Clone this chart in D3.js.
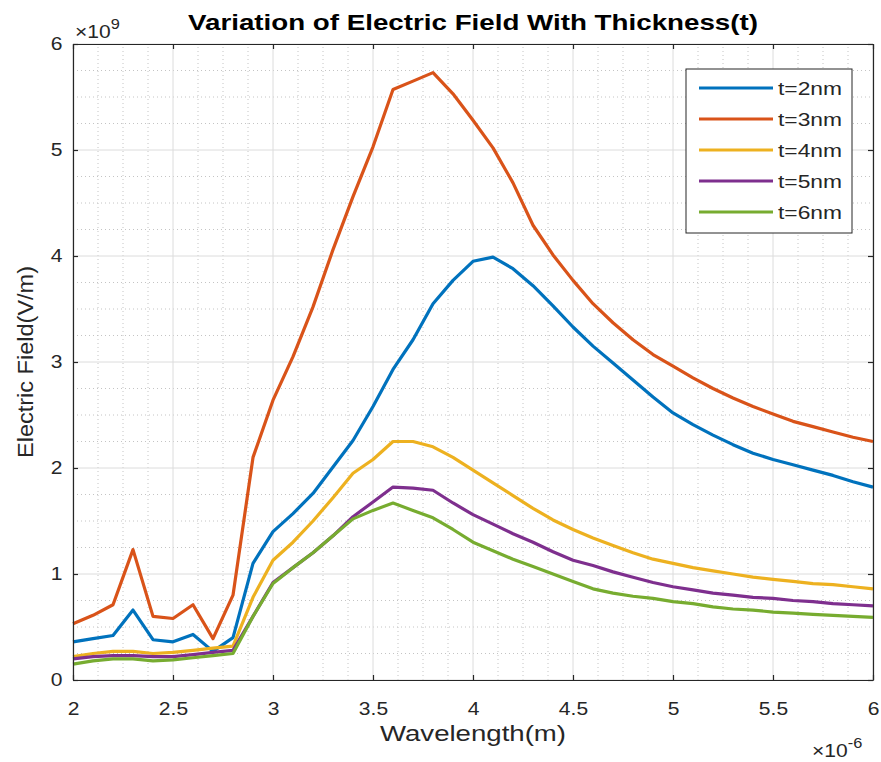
<!DOCTYPE html>
<html>
<head>
<meta charset="utf-8">
<script src="https://cdn.jsdelivr.net/npm/d3@7"></script>
<style>
  html, body { margin: 0; padding: 0; background: #fff; }
  text { font-family: "Liberation Sans", Arial, Helvetica, sans-serif; }
</style>
</head>
<body>
<svg id="chart" width="881" height="762"></svg>
<script>
// Wavelength samples (in micrometres; the axis shows them as ×10^-6 m)
const wavelength = [2.0, 2.1, 2.2, 2.3, 2.4, 2.5, 2.6, 2.7, 2.8, 2.9,
  3.0, 3.1, 3.2, 3.3, 3.4, 3.5, 3.6, 3.7, 3.8, 3.9,
  4.0, 4.1, 4.2, 4.3, 4.4, 4.5, 4.6, 4.7, 4.8, 4.9,
  5.0, 5.1, 5.2, 5.3, 5.4, 5.5, 5.6, 5.7, 5.8, 5.9, 6.0];

// Electric field (×10^9 V/m) for each layer thickness
const field_t2 = [0.36, 0.39, 0.42, 0.66, 0.38, 0.36, 0.43, 0.27, 0.40, 1.10,
  1.40, 1.57, 1.76, 2.01, 2.26, 2.58, 2.93, 3.21, 3.55, 3.77,
  3.95, 3.99, 3.88, 3.72, 3.53, 3.33, 3.15, 2.99, 2.83, 2.67,
  2.52, 2.41, 2.31, 2.22, 2.14, 2.08, 2.03, 1.98, 1.93, 1.87, 1.82];
const field_t3 = [0.53, 0.61, 0.71, 1.23, 0.60, 0.58, 0.71, 0.39, 0.80, 2.10,
  2.64, 3.05, 3.52, 4.06, 4.56, 5.03, 5.57, 5.65, 5.73, 5.53,
  5.28, 5.02, 4.69, 4.29, 4.01, 3.77, 3.55, 3.37, 3.21, 3.07,
  2.96, 2.85, 2.75, 2.66, 2.58, 2.51, 2.44, 2.39, 2.34, 2.29, 2.25];
const field_t4 = [0.22, 0.25, 0.27, 0.27, 0.25, 0.26, 0.28, 0.30, 0.32, 0.78,
  1.13, 1.30, 1.50, 1.72, 1.95, 2.08, 2.25, 2.25, 2.20, 2.10,
  1.98, 1.86, 1.74, 1.62, 1.51, 1.42, 1.34, 1.27, 1.20, 1.14,
  1.10, 1.06, 1.03, 1.00, 0.97, 0.95, 0.93, 0.91, 0.90, 0.88, 0.86];
const field_t5 = [0.20, 0.22, 0.23, 0.23, 0.22, 0.22, 0.24, 0.26, 0.28, 0.60,
  0.92, 1.06, 1.20, 1.36, 1.54, 1.68, 1.82, 1.81, 1.79, 1.67,
  1.56, 1.47, 1.38, 1.30, 1.21, 1.13, 1.08, 1.02, 0.97, 0.92,
  0.88, 0.85, 0.82, 0.80, 0.78, 0.77, 0.75, 0.74, 0.72, 0.71, 0.70];
const field_t6 = [0.15, 0.18, 0.20, 0.20, 0.18, 0.19, 0.21, 0.23, 0.25, 0.60,
  0.91, 1.06, 1.20, 1.36, 1.52, 1.60, 1.67, 1.60, 1.53, 1.42,
  1.30, 1.22, 1.14, 1.07, 1.00, 0.93, 0.86, 0.82, 0.79, 0.77,
  0.74, 0.72, 0.69, 0.67, 0.66, 0.64, 0.63, 0.62, 0.61, 0.60, 0.59];

const seriesNames = ["t=2nm", "t=3nm", "t=4nm", "t=5nm", "t=6nm"];
const seriesValues = [field_t2, field_t3, field_t4, field_t5, field_t6];
const seriesColors = ["#0072BD", "#D95319", "#EDB120", "#7E2F8E", "#77AC30"];

const xTicks = [2, 2.5, 3, 3.5, 4, 4.5, 5, 5.5, 6];
const yTicks = [0, 1, 2, 3, 4, 5, 6];

const svg = d3.select("#chart");
const margin = { left: 73, right: 8, top: 44, bottom: 82 };
const W = 881, H = 762;
const plotW = W - margin.left - margin.right;
const plotH = H - margin.top - margin.bottom;

const x = d3.scaleLinear().domain([2, 6]).range([margin.left, margin.left + plotW]);
const y = d3.scaleLinear().domain([0, 6]).range([margin.top + plotH, margin.top]);

const axisColor = "#262626";
const wide = "scale(1.17,1)";   // the figure's lettering is slightly wide

// Minor grid (dotted)
const xMinor = d3.range(2, 6.0001, 0.125).filter(v => Math.abs(v * 2 - Math.round(v * 2)) > 1e-6);
const yMinor = d3.range(0, 6.0001, 0.25).filter(v => Math.abs(v - Math.round(v)) > 1e-6);
const grid = svg.append("g");
grid.selectAll(".vminor").data(xMinor).enter().append("line")
  .attr("x1", d => x(d)).attr("x2", d => x(d))
  .attr("y1", y(0)).attr("y2", y(6))
  .attr("stroke", "#c4c4c4").attr("stroke-width", 1).attr("stroke-dasharray", "1,3");
grid.selectAll(".hminor").data(yMinor).enter().append("line")
  .attr("x1", x(2)).attr("x2", x(6))
  .attr("y1", d => y(d)).attr("y2", d => y(d))
  .attr("stroke", "#c4c4c4").attr("stroke-width", 1).attr("stroke-dasharray", "1,3");
// Major grid
grid.selectAll(".vmajor").data(xTicks).enter().append("line")
  .attr("x1", d => x(d)).attr("x2", d => x(d))
  .attr("y1", y(0)).attr("y2", y(6))
  .attr("stroke", "#dcdcdc").attr("stroke-width", 1);
grid.selectAll(".hmajor").data(yTicks).enter().append("line")
  .attr("x1", x(2)).attr("x2", x(6))
  .attr("y1", d => y(d)).attr("y2", d => y(d))
  .attr("stroke", "#dcdcdc").attr("stroke-width", 1);

// Curves
const line = d3.line()
  .x((d, i) => x(wavelength[i]))
  .y(d => y(d));
svg.append("g").selectAll("path").data(seriesValues).enter().append("path")
  .attr("d", d => line(d))
  .attr("fill", "none")
  .attr("stroke", (d, i) => seriesColors[i])
  .attr("stroke-width", 3.2)
  .attr("stroke-linejoin", "round");

// Axes with inward ticks on all four sides
function styleAxis(g) {
  g.select(".domain").attr("stroke", axisColor).attr("stroke-width", 1.2);
  g.selectAll(".tick line").attr("stroke", axisColor).attr("stroke-width", 1.2);
  g.selectAll("text").attr("fill", axisColor).attr("font-size", 18)
    .attr("transform", wide)
    .style("font-family", "'Liberation Sans', Arial, sans-serif");
}
const fmt = d3.format("");
svg.append("g").attr("transform", `translate(0,${y(0)})`)
  .call(d3.axisBottom(x).tickValues(xTicks).tickSize(-5).tickSizeOuter(0).tickPadding(22).tickFormat(fmt))
  .call(styleAxis);
svg.append("g").attr("transform", `translate(0,${y(6)})`)
  .call(d3.axisTop(x).tickValues(xTicks).tickSize(-5).tickSizeOuter(0).tickFormat(""))
  .call(styleAxis);
svg.append("g").attr("transform", `translate(${x(2)},0)`)
  .call(d3.axisLeft(y).tickValues(yTicks).tickSize(-5).tickSizeOuter(0).tickPadding(9).tickFormat(fmt))
  .call(styleAxis);
svg.append("g").attr("transform", `translate(${x(6)},0)`)
  .call(d3.axisRight(y).tickValues(yTicks).tickSize(-5).tickSizeOuter(0).tickFormat(""))
  .call(styleAxis);

// Exponent multipliers
const yExp = svg.append("text").attr("transform", `translate(${x(2) + 2},38) ${wide}`)
  .attr("fill", axisColor).attr("font-size", 18);
yExp.append("tspan").text("×10");
yExp.append("tspan").attr("dy", -9).attr("font-size", 14).text("9");

const xExp = svg.append("text").attr("transform", `translate(812,757) ${wide}`)
  .attr("fill", axisColor).attr("font-size", 18);
xExp.append("tspan").text("×10");
xExp.append("tspan").attr("dy", -9).attr("font-size", 14).text("-6");

// Title and axis labels
svg.append("text").attr("x", x(4)).attr("y", 30).attr("text-anchor", "middle")
  .attr("font-size", 22).attr("font-weight", "bold").attr("fill", "#000")
  .attr("textLength", 570).attr("lengthAdjust", "spacingAndGlyphs")
  .text("Variation of Electric Field With Thickness(t)");
svg.append("text").attr("x", x(4)).attr("y", 741).attr("text-anchor", "middle")
  .attr("font-size", 22).attr("fill", axisColor)
  .attr("textLength", 186).attr("lengthAdjust", "spacingAndGlyphs")
  .text("Wavelength(m)");
svg.append("text")
  .attr("transform", `translate(33,${y(3)}) rotate(-90)`)
  .attr("text-anchor", "middle").attr("font-size", 22).attr("fill", axisColor)
  .attr("textLength", 192).attr("lengthAdjust", "spacingAndGlyphs")
  .text("Electric Field(V/m)");

// Legend
const legend = svg.append("g").attr("transform", "translate(686,69)");
legend.append("rect").attr("width", 166).attr("height", 164)
  .attr("fill", "#fff").attr("stroke", axisColor).attr("stroke-width", 1);
const items = legend.selectAll(".item").data(seriesNames).enter().append("g")
  .attr("transform", (d, i) => `translate(0,${19 + i * 31})`);
items.append("line").attr("x1", 13).attr("x2", 87).attr("y1", 0).attr("y2", 0)
  .attr("stroke", (d, i) => seriesColors[i]).attr("stroke-width", 3.2);
items.append("text").attr("x", 92).attr("y", 7).attr("font-size", 19)
  .attr("textLength", 64).attr("lengthAdjust", "spacingAndGlyphs")
  .attr("fill", axisColor).text(d => d);
</script>
</body>
</html>
